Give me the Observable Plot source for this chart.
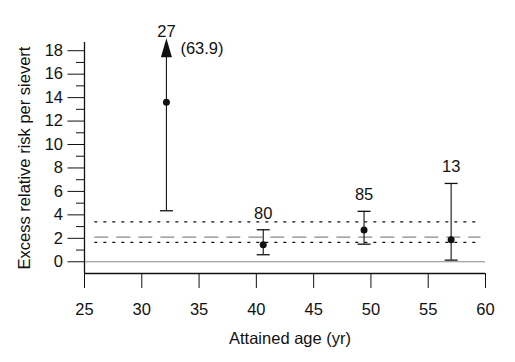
<!DOCTYPE html>
<html><head><meta charset="utf-8">
<script src="https://cdn.jsdelivr.net/npm/d3@7"></script>
<script src="https://cdn.jsdelivr.net/npm/@observablehq/plot@0.6"></script>
<style>body{margin:0;background:#fff}</style>
</head><body><div id="chart"></div>
<script>
// Data
const ages = [32.15, 40.6, 49.4, 57.0];
const errPerSv = [13.6, 1.45, 2.7, 1.88];
const lowerCI = [4.35, 0.6, 1.5, 0.14];
const upperCI = [63.9, 2.73, 4.3, 6.68];
const cases = [27, 80, 85, 13];
const yShownMax = 18;
const yMajorTicks = [0, 2, 4, 6, 8, 10, 12, 14, 16, 18];
const yMinorTicks = [1, 3, 5, 7, 9, 11, 13, 15, 17];
const xTicks = [25, 30, 35, 40, 45, 50, 55, 60];
const dottedLines = [3.4, 1.65];
const dashedLines = [2.1];
const refSpan = [25.9, 59.6];
const xTitle = "Attained age (yr)";
const yTitle = "Excess relative risk per sievert";

const data = ages.map((a, i) => ({
  age: a, err: errPerSv[i], lower: lowerCI[i], upper: upperCI[i], cases: cases[i],
  top: Math.min(upperCI[i], yShownMax), clipped: upperCI[i] > yShownMax
}));
const inRange = data.filter(d => !d.clipped);
const clipped = data.filter(d => d.clipped);

const capSymbol = {draw(ctx) { ctx.moveTo(-6.5, 0); ctx.lineTo(6.5, 0); }};
const arrowHead = {draw(ctx) { ctx.moveTo(0, -12.5); ctx.lineTo(5.5, 6.5); ctx.lineTo(-5.5, 6.5); ctx.closePath(); }};
const FS = 16.5;
const FONT = "'Liberation Sans', Arial, Helvetica, sans-serif";

const chart = Plot.plot({
  width: 515,
  height: 362,
  marginLeft: 84,
  marginRight: 30,
  marginTop: 42,
  marginBottom: 89,
  style: {fontFamily: FONT, fontSize: "16.5px", color: "#111", background: "#fff"},
  x: {domain: [25, 60]},
  y: {domain: [-1, 18.7]},
  marks: [
    Plot.ruleY(dottedLines, {x1: refSpan[0], x2: refSpan[1], stroke: "#111", strokeWidth: 1.3, strokeDasharray: "3,6"}),
    Plot.ruleY(dashedLines, {x1: refSpan[0], x2: refSpan[1], stroke: "#888", strokeWidth: 1.2, strokeDasharray: "14,8"}),
    Plot.ruleY([0], {stroke: "#888", strokeWidth: 1.2}),
    Plot.ruleY([-1], {stroke: "#111", strokeWidth: 1.3}),
    Plot.ruleX([25], {stroke: "#111", strokeWidth: 1.3}),
    Plot.axisY(yMajorTicks, {tickSize: 16.5, tickPadding: 5, fontSize: FS, label: null, stroke: "#111"}),
    Plot.axisY(yMinorTicks, {tickSize: 8, tickFormat: () => "", label: null, stroke: "#111"}),
    Plot.axisX(xTicks, {tickSize: 15, tickPadding: 15, fontSize: FS, label: null, stroke: "#111"}),
    Plot.text([yTitle], {frameAnchor: "left", textAnchor: "middle", rotate: -90, dx: -60, lineAnchor: "middle", fontSize: FS, fill: "#111"}),
    Plot.text([xTitle], {frameAnchor: "bottom", textAnchor: "middle", dx: 5, dy: 65.5, lineAnchor: "middle", fontSize: FS, fill: "#111"}),
    Plot.ruleX(data, {x: "age", y1: "lower", y2: "top", stroke: "#111", strokeWidth: 1.1}),
    Plot.dot(data, {x: "age", y: "lower", symbol: capSymbol, stroke: "#111", strokeWidth: 1.3, fill: "none"}),
    Plot.dot(inRange, {x: "age", y: "upper", symbol: capSymbol, stroke: "#111", strokeWidth: 1.3, fill: "none"}),
    Plot.dot(clipped, {x: "age", y: "top", symbol: arrowHead, fill: "#111", stroke: "none"}),
    Plot.dot(data, {x: "age", y: "err", r: 3.5, fill: "#111", stroke: "none"}),
    Plot.text(inRange, {x: "age", y: "upper", text: d => String(d.cases), fontSize: FS, lineAnchor: "bottom", dy: -11, fill: "#111"}),
    Plot.text(clipped, {x: "age", y: "top", text: d => String(d.cases), fontSize: FS, lineAnchor: "bottom", dy: -14, fill: "#111"}),
    Plot.text(clipped, {x: "age", y: "top", text: d => `(${d.upper})`, fontSize: FS, textAnchor: "start", dx: 14, dy: -2, lineAnchor: "middle", fill: "#111"})
  ]
});
document.getElementById("chart").appendChild(chart);
</script>
</body></html>
